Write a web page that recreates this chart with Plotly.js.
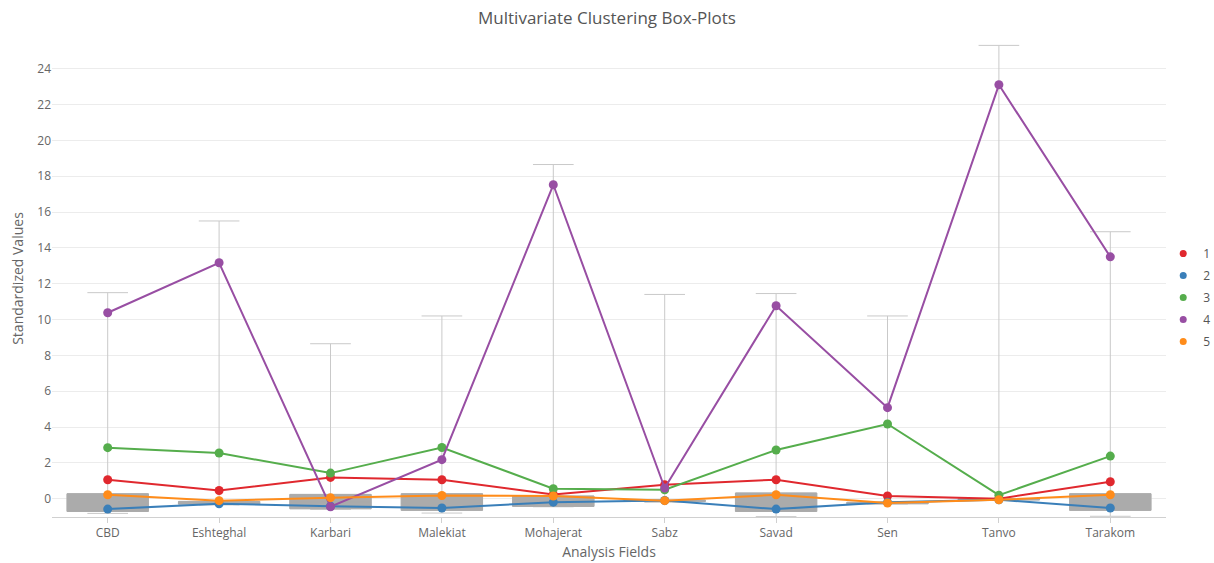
<!DOCTYPE html>
<html>
<head>
<meta charset="utf-8">
<script src="https://cdn.plot.ly/plotly-3.0.1.min.js"></script>
<style>html,body{margin:0;padding:0;background:#fff;}#chart{width:1214px;height:563px;}</style>
</head>
<body>
<div id="chart"></div>
<script>
var categories = ["CBD","Eshteghal","Karbari","Malekiat","Mohajerat","Sabz","Savad","Sen","Tanvo","Tarakom"];

// Box-plot statistics
var boxQ1         = [-0.71, -0.30, -0.56, -0.65, -0.43, -0.15, -0.71, -0.28, -0.07, -0.65];
var boxMedian     = [-0.30, -0.22, -0.20, -0.25, -0.15, -0.12, -0.25, -0.24, -0.04, -0.25];
var boxQ3         = [ 0.28, -0.15,  0.24,  0.28,  0.15, -0.08,  0.32, -0.20,  0.00,  0.28];
var boxLowerFence = [-0.82, -0.35, -0.60, -0.80, -0.45, -0.20, -1.00, -0.30, -0.10, -0.98];
var boxUpperFence = [11.50, 15.50,  8.65, 10.20, 18.65, 11.40, 11.45, 10.20, 25.30, 14.90];

// Cluster means
var cluster1 = [1.06, 0.46, 1.19, 1.06, 0.24, 0.78, 1.06, 0.15, 0.00, 0.95];
var cluster2 = [-0.58, -0.28, -0.42, -0.52, -0.19, -0.10, -0.58, -0.20, -0.06, -0.52];
var cluster3 = [2.85, 2.55, 1.43, 2.86, 0.56, 0.50, 2.72, 4.17, 0.20, 2.38];
var cluster4 = [10.38, 13.17, -0.45, 2.18, 17.52, 0.60, 10.77, 5.08, 23.10, 13.50];
var cluster5 = [0.22, -0.11, 0.06, 0.18, 0.15, -0.11, 0.22, -0.24, -0.06, 0.22];

var clusterNames = ["1","2","3","4","5"];
var clusterData = [cluster1, cluster2, cluster3, cluster4, cluster5];
var clusterColors = ["#e0282e", "#3a7fb9", "#55ad4c", "#984ea3", "#ff8c1a"];

var font = "'Open Sans', 'Noto Sans', sans-serif";

var traces = [];
// whiskers
traces.push({
  type: "box", x: categories,
  q1: boxQ1, median: boxMedian, q3: boxQ3,
  lowerfence: boxLowerFence, upperfence: boxUpperFence,
  width: 0.73, whiskerwidth: 0.5,
  line: {color: "#c9c9c9", width: 1},
  fillcolor: "rgba(0,0,0,0)",
  showlegend: false, hoverinfo: "skip"
});
// box bodies
traces.push({
  type: "box", x: categories,
  q1: boxQ1, median: boxMedian, q3: boxQ3,
  lowerfence: boxQ1, upperfence: boxQ3,
  width: 0.73, whiskerwidth: 0,
  line: {color: "#ababab", width: 1},
  fillcolor: "#ababab",
  showlegend: false, hoverinfo: "skip"
});
for (var i = 0; i < clusterData.length; i++) {
  traces.push({
    type: "scatter", mode: "lines+markers",
    x: categories, y: clusterData[i], name: clusterNames[i],
    line: {color: clusterColors[i], width: 2},
    marker: {color: clusterColors[i], size: 9},
    showlegend: false
  });
}
for (var j = 0; j < clusterNames.length; j++) {
  traces.push({
    type: "scatter", mode: "markers",
    x: [null], y: [null], name: clusterNames[j],
    legendgroup: "g" + j,
    marker: {color: clusterColors[j], size: 7},
    showlegend: true
  });
}

var layout = {
  width: 1214, height: 563,
  margin: {l: 52, r: 48, t: 40, b: 46, autoexpand: false},
  paper_bgcolor: "#fff", plot_bgcolor: "#fff",
  font: {family: font, color: "#666", size: 12},
  title: {text: "Multivariate Clustering Box-Plots", font: {family: font, size: 17, color: "#555"}, x: 0.5, xanchor: "center", y: 0.968, yanchor: "middle"},
  boxmode: "overlay",
  showlegend: true,
  legend: {x: 0.9975, xanchor: "left", y: 0.46, yanchor: "middle", font: {size: 12, color: "#555"}, bgcolor: "rgba(0,0,0,0)", itemwidth: 30, tracegroupgap: 3},
  xaxis: {
    type: "category",
    title: {text: "Analysis Fields", font: {size: 14, color: "#666"}, standoff: 6},
    showline: true, linecolor: "#d0d0d0", linewidth: 1,
    ticks: "outside", ticklen: 5, tickcolor: "#d0d0d0",
    showgrid: false, zeroline: false,
    tickfont: {size: 12, color: "#666"},
    range: [-0.5, 9.5]
  },
  yaxis: {
    title: {text: "Standardized Values", font: {size: 14, color: "#666"}, standoff: 10},
    range: [-1.02, 25.6],
    tickmode: "array",
    tickvals: [0,2,4,6,8,10,12,14,16,18,20,22,24],
    showgrid: true, gridcolor: "#ececec", gridwidth: 1,
    zeroline: false, showline: false,
    ticks: "", tickfont: {size: 12, color: "#666"}
  }
};

Plotly.newPlot("chart", traces, layout, {displayModeBar: false, staticPlot: true});
</script>
</body>
</html>
